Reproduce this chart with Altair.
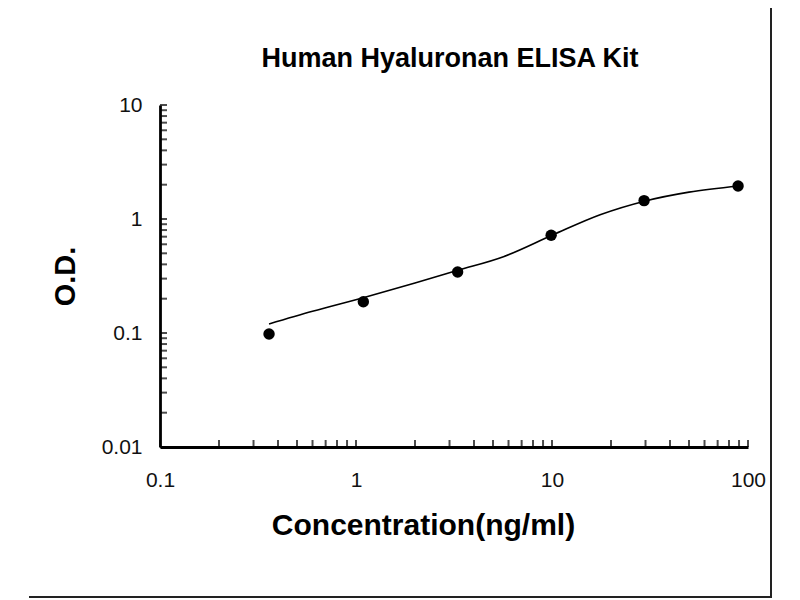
import altair as alt
import pandas as pd

# Measured standard points
conc = [0.36, 1.09, 3.3, 9.9, 29.5, 89]
od = [0.098, 0.188, 0.343, 0.72, 1.45, 1.95]

# Fitted curve
curve_x = [0.36, 0.6, 1.1, 2.0, 3.3, 5.7, 10, 17.6, 30, 50, 90]
curve_y = [0.12, 0.155, 0.205, 0.275, 0.355, 0.47, 0.72, 1.09, 1.44, 1.72, 1.95]

# Axis tick positions (log minor + major)
x_ticks = [0.1, 0.2, 0.3, 0.4, 0.5, 0.6, 0.7, 0.8, 0.9,
           1, 2, 3, 4, 5, 6, 7, 8, 9,
           10, 20, 30, 40, 50, 60, 70, 80, 90, 100]
y_ticks = [0.01, 0.02, 0.03, 0.04, 0.05, 0.06, 0.07, 0.08, 0.09,
           0.1, 0.2, 0.3, 0.4, 0.5, 0.6, 0.7, 0.8, 0.9,
           1, 2, 3, 4, 5, 6, 7, 8, 9, 10]
x_labels = [0.1, 1, 10, 100]
y_labels = [0.01, 0.1, 1, 10]
title_text = ["Human Hyaluronan ELISA Kit"]

W, H = 588, 342
FONT = "Liberation Sans"

xscale = alt.Scale(type="log", domain=[0.1, 100], nice=False)
yscale = alt.Scale(type="log", domain=[0.01, 10], nice=False)

pts_df = pd.DataFrame({"x": conc, "y": od})
curve_df = pd.DataFrame({"x": curve_x, "y": curve_y})
xt_df = pd.DataFrame({"x": x_ticks})
yt_df = pd.DataFrame({"y": y_ticks})
title_df = pd.DataFrame({"t": title_text})
one = pd.DataFrame({"a": [0]})

x_axis = alt.Axis(values=x_labels, format="~g", ticks=False, grid=False,
                  domainWidth=2.8, domainColor="black",
                  labelFont=FONT, labelFontSize=21, labelColor="#111",
                  labelPadding=22, labelFlush=False,
                  title="Concentration(ng/ml)", titleFont=FONT, titleFontSize=30,
                  titleFontWeight="bold", titleColor="black", titlePadding=20,
                  titleX=263, titleAlign="center")
y_axis = alt.Axis(values=y_labels, format="~g", ticks=False, grid=False,
                  domainWidth=2.8, domainColor="black",
                  labelFont=FONT, labelFontSize=21, labelColor="#111",
                  labelPadding=18, labelFlush=False,
                  title="O.D.", titleFont=FONT, titleFontSize=29,
                  titleFontWeight="bold", titleColor="black", titlePadding=21)

line = alt.Chart(curve_df).mark_line(color="black", strokeWidth=1.6, interpolate="monotone").encode(
    x=alt.X("x:Q", scale=xscale, axis=x_axis),
    y=alt.Y("y:Q", scale=yscale, axis=y_axis),
)
points = alt.Chart(pts_df).mark_point(filled=True, color="black", size=130, opacity=1).encode(
    x=alt.X("x:Q", scale=xscale),
    y=alt.Y("y:Q", scale=yscale),
)
xticks = alt.Chart(xt_df).mark_tick(color="black", thickness=2, size=7, orient="vertical").encode(
    x=alt.X("x:Q", scale=xscale),
    y=alt.value(H - 3.5),
)
yticks = alt.Chart(yt_df).mark_tick(color="black", thickness=2, size=7, orient="horizontal").encode(
    y=alt.Y("y:Q", scale=yscale),
    x=alt.value(3.5),
)
title = alt.Chart(title_df).mark_text(font=FONT, fontSize=27, fontWeight="bold", color="black",
                                      align="center", baseline="alphabetic").encode(
    text="t:N", x=alt.value(290), y=alt.value(-38)
)
frame_right = alt.Chart(one).mark_rule(color="#222", strokeWidth=2).encode(
    x=alt.value(611), y=alt.value(-97), y2=alt.value(H + 150)
)
frame_bottom = alt.Chart(one).mark_rule(color="#222", strokeWidth=2).encode(
    x=alt.value(-131), x2=alt.value(612), y=alt.value(H + 150)
)

chart = alt.layer(line, points, xticks, yticks, title, frame_right, frame_bottom).properties(
    width=W, height=H,
    autosize=alt.AutoSizeParams(type="none"),
    padding={"left": 152, "top": 97, "right": 40, "bottom": 152},
    background="white",
).configure_view(stroke=None)

chart.save("out.html", embed_options={"renderer": "svg", "actions": False})
